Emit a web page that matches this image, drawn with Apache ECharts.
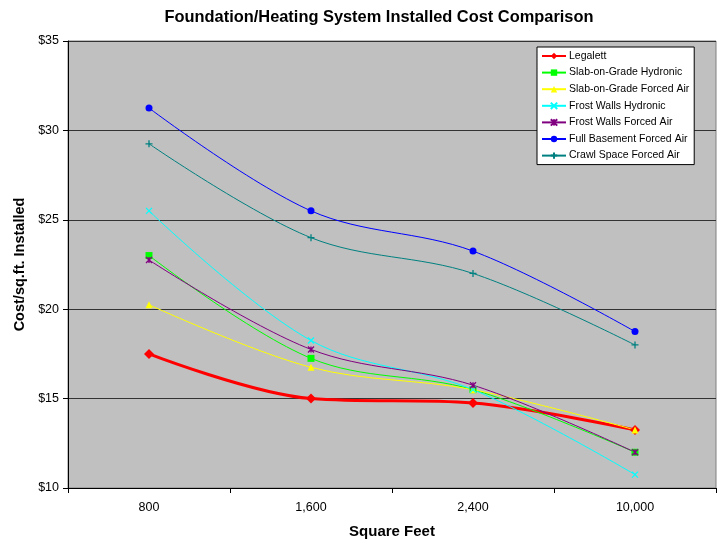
<!DOCTYPE html>
<html><head><meta charset="utf-8">
<script src="https://cdn.jsdelivr.net/npm/echarts@6/dist/echarts.min.js"></script>
<style>html,body{margin:0;padding:0;background:#fff}#c{width:720px;height:540px}</style>
</head><body><div id="c"></div>
<script>
var categories = ['800', '1,600', '2,400', '10,000'];
var legalett = [17.5, 15.0, 14.75, 13.25];
var slabHydronic = [23.0, 17.25, 15.5, 12.0];
var slabForcedAir = [20.25, 16.75, 15.5, 13.25];
var frostHydronic = [25.5, 18.25, 15.5, 10.75];
var frostForcedAir = [22.75, 17.75, 15.75, 12.0];
var basementForcedAir = [31.25, 25.5, 23.25, 18.75];
var crawlForcedAir = [29.25, 24.0, 22.0, 18.0];
var seriesNames = ['Legalett', 'Slab-on-Grade Hydronic', 'Slab-on-Grade Forced Air', 'Frost Walls Hydronic', 'Frost Walls Forced Air', 'Full Basement Forced Air', 'Crawl Space Forced Air'];

var X = 'path://M0,0L10,10M10,0L0,10';
var PLUS = 'path://M5,0L5,10M0,5L10,5';
var STAR = 'path://M0,0L10,10M10,0L0,10M5,0L5,10';

function mk(name, data, color, symbol, size, width, stroke) {
  return {
    name: name, type: 'line', data: data, smooth: 0.35,
    symbol: symbol, symbolSize: size, showSymbol: true,
    lineStyle: {color: color, width: width},
    itemStyle: {color: color, borderColor: color, borderWidth: stroke ? 1.3 : 0},
    emphasis: {disabled: true}
  };
}

var chart = echarts.init(document.getElementById('c'));
chart.setOption({
  animation: false,
  backgroundColor: '#fff',
  title: {
    text: 'Foundation/Heating System Installed Cost Comparison',
    left: 374, top: 4, textAlign: 'center',
    textStyle: {fontFamily: 'Liberation Sans', fontSize: 16.4, fontWeight: 'bold', color: '#000'}
  },
  grid: {left: 68, right: 4, top: 41, bottom: 52, show: true, backgroundColor: '#C0C0C0', borderColor: '#808080', borderWidth: 1, outerBoundsMode: 'none', containLabel: false},
  legend: {
    orient: 'vertical', left: 537, top: 47,
    backgroundColor: '#fff', borderColor: '#000', borderWidth: 1,
    padding: [3, 5, 3, 4], itemGap: 4.6, itemWidth: 24, itemHeight: 8,
    textStyle: {fontFamily: 'Liberation Sans', fontSize: 10.5, lineHeight: 12, color: '#000', padding: [0, 0, 0, -2]},
    data: seriesNames
  },
  xAxis: {
    type: 'category', data: categories, boundaryGap: true,
    name: 'Square Feet', nameLocation: 'middle', nameGap: 36,
    nameTextStyle: {fontFamily: 'Liberation Sans', fontSize: 15, fontWeight: 'bold', color: '#000'},
    axisLine: {lineStyle: {color: '#000', width: 1}},
    axisTick: {show: true, alignWithLabel: false, length: 5, lineStyle: {color: '#000'}},
    axisLabel: {fontFamily: 'Liberation Sans', fontSize: 12.5, color: '#000', margin: 13},
    splitLine: {show: false}
  },
  yAxis: {
    type: 'value', min: 10, max: 35, interval: 5,
    name: 'Cost/sq.ft. Installed', nameLocation: 'middle', nameGap: 39, nameRotate: 90,
    nameTextStyle: {fontFamily: 'Liberation Sans', fontSize: 14.5, fontWeight: 'bold', color: '#000'},
    axisLine: {show: true, lineStyle: {color: '#000', width: 1}},
    axisTick: {show: true, length: 5, lineStyle: {color: '#000'}},
    axisLabel: {fontFamily: 'Liberation Sans', fontSize: 12.5, color: '#000', margin: 9, formatter: '${value}'},
    splitLine: {show: true, lineStyle: {color: '#333', width: 1}}
  },
  series: [
    mk(seriesNames[0], legalett, '#FF0000', 'diamond', 10, 3, false),
    mk(seriesNames[1], slabHydronic, '#00FF00', 'rect', 7, 1, false),
    mk(seriesNames[2], slabForcedAir, '#FFFF00', 'triangle', 7, 1, false),
    mk(seriesNames[3], frostHydronic, '#00FFFF', X, 6, 1, true),
    mk(seriesNames[4], frostForcedAir, '#800080', STAR, 6, 1, true),
    mk(seriesNames[5], basementForcedAir, '#0000FF', 'circle', 7, 1, false),
    mk(seriesNames[6], crawlForcedAir, '#008080', PLUS, 7, 1, true)
  ]
});
</script>
</body></html>
